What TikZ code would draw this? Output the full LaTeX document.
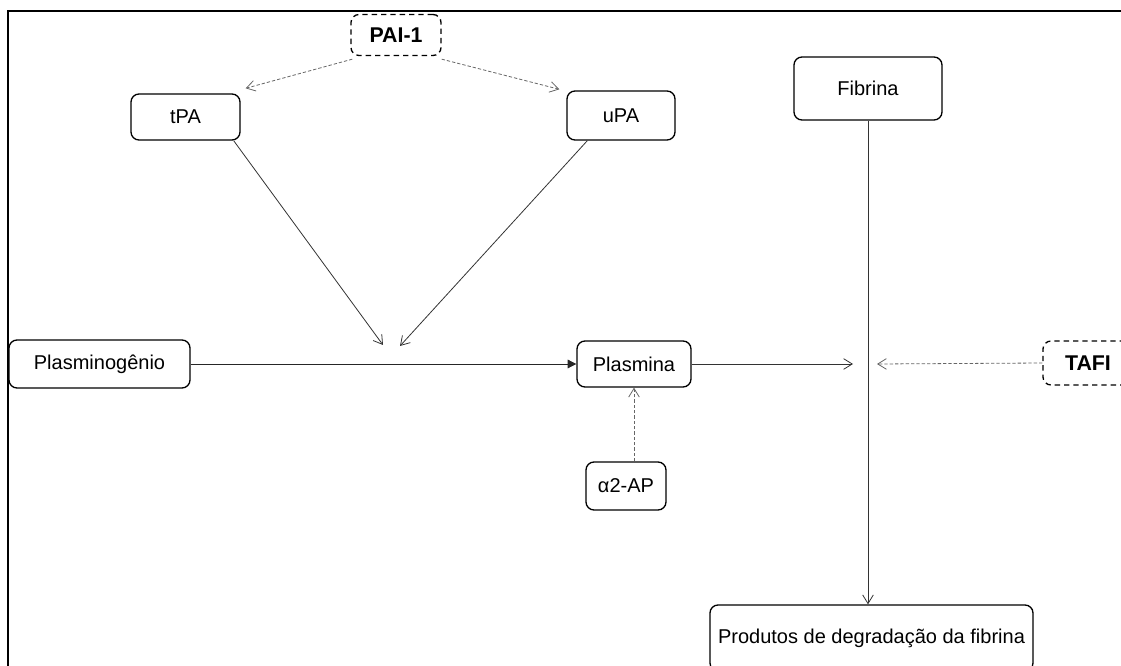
\documentclass[tikz,border=0pt]{standalone}
\usepackage{fontspec}
\setmainfont{Liberation Sans}
\usetikzlibrary{arrows.meta}
\begin{document}
\begin{tikzpicture}[x=0.75pt,y=-0.75pt,
  box/.style={draw=black,line width=1pt,rounded corners=6pt,inner sep=0pt,align=center,font=\fontsize{15}{18}\selectfont},
  dbox/.style={box,dashed,dash pattern=on 4pt off 3pt,font=\fontsize{16}{18}\selectfont\bfseries},
  conn/.style={draw=black!80,line width=0.6pt,-{Straight Barb[length=6.5pt,width=8pt]}},
  inhib/.style={draw=black!60,line width=0.6pt,dash pattern=on 2.5pt off 1.5pt,-{Straight Barb[length=6.5pt,width=8pt]}}
]
\useasboundingbox (0,0) rectangle (1121,666);
\draw[line width=1.5pt] (8,666) -- (8,11) -- (1121,11);

\node[dbox,minimum width=67.5pt,minimum height=30.75pt] (pai) at (396,35) {PAI-1};
\node[box,minimum width=81.75pt,minimum height=34.5pt] (tpa) at (185.5,117) {tPA};
\node[box,minimum width=81pt,minimum height=36.75pt] (upa) at (621,115.5) {uPA};
\node[box,minimum width=111pt,minimum height=47.25pt] (fib) at (868,88.5) {Fibrina};
\node[box,minimum width=135.75pt,minimum height=36pt] (plg) at (99.5,364) {Plasminogênio};
\node[box,minimum width=85.5pt,minimum height=34.5pt] (pla) at (634,364) {Plasmina};
\node[dbox,minimum width=67.5pt,minimum height=33pt] (tafi) at (1088,363) {TAFI};
\node[box,minimum width=60pt,minimum height=36pt] (a2) at (626,486) {α2-AP};
\node[box,minimum width=242.25pt,minimum height=49.5pt] (pdf) at (871.5,638) {Produtos de degradação da fibrina};

\coordinate (j1) at (383,345);
\coordinate (j2) at (400,346);
\coordinate (j3) at (853,364);
\coordinate (j4) at (877,364);

\draw[inhib] ([shift={(1.5pt,-2.25pt)}]pai.south west) -- ([shift={(3.75pt,3.75pt)}]tpa.north east);
\draw[inhib] ([shift={(0pt,-2.25pt)}]pai.south east) -- ([shift={(-5.25pt,0.75pt)}]upa.north west);
\draw[conn] ([xshift=-5.25pt]tpa.south east) -- (j1);
\draw[conn] ([xshift=15.75pt]upa.south west) -- (j2);
\draw[draw=black!85,line width=0.6pt,-{Triangle[length=6.5pt,width=6.5pt]}] (plg.east) -- (pla.west);
\draw[conn] (pla.east) -- (j3);
\draw[inhib] (tafi.west) -- (j4);
\draw[conn] (fib.south) -- (fib.south |- pdf.north);
\draw[inhib] (pla.south |- a2.north) -- (pla.south);
\end{tikzpicture}
\end{document}
